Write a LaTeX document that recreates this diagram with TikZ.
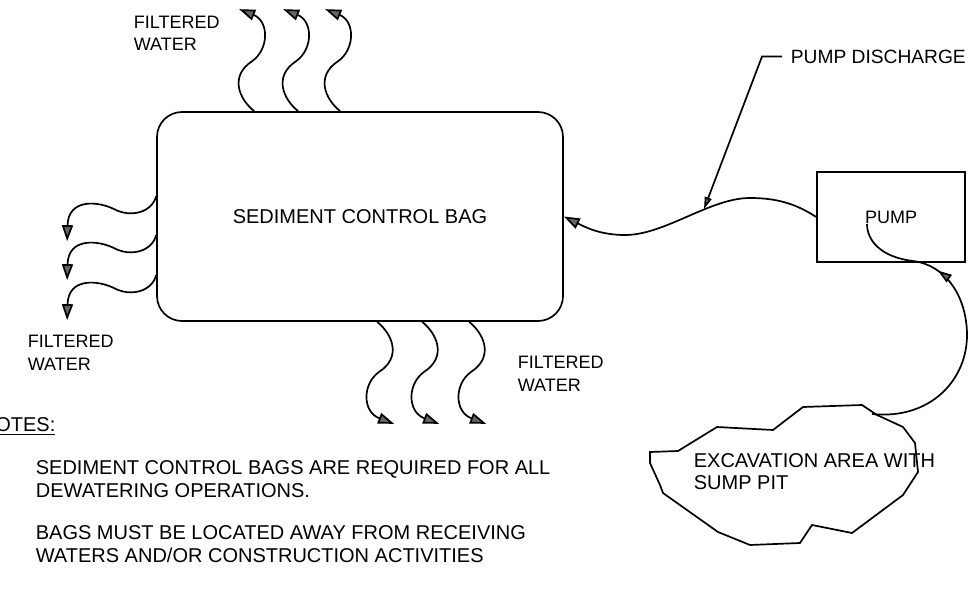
\documentclass[tikz,border=0pt]{standalone}
\usepackage{fontspec}
\setmainfont{Liberation Sans}
\usetikzlibrary{calc}
\usetikzlibrary{arrows.meta}
\usetikzlibrary{decorations.markings}
\tikzset{bagbox/.style={draw,rounded corners=12.5pt,minimum width=203pt,minimum height=104.5pt,inner sep=0pt}}
\tikzset{pumpbox/.style={draw,minimum width=74pt,minimum height=45pt,inner sep=0pt}}
\tikzset{callout/.style={anchor=north west,inner sep=0pt,align=left}}
\tikzset{flow/.style={-{Triangle[length=8pt,width=5.5pt,fill=black!60]}}}
\tikzset{hosearrow/.style={decoration={
			markings,
			mark=at position #1 with {\arrow{Triangle[length=7pt,width=4.5pt,fill=black!60]}}},postaction={decorate}},
	hosearrow/.default=0.7,
}

\begin{document}
\begin{tikzpicture}[x=0.5pt,y=0.5pt,line width=0.85pt]
			\tikzstyle{every node}=[font=\fontsize{10}{11.5}\selectfont]
			\useasboundingbox (0,0) rectangle (968,595);
			
			\node[bagbox] (bag) at (360,378.5) {SEDIMENT CONTROL BAG};
			\node[pumpbox,font=\fontsize{9}{11}\selectfont] (pump) at (891,378) {PUMP};
			
			\draw[flow,shift={($(bag.north west)+(98,0)$)}] (0,0) .. controls (-15,12) and (-25,35) .. (-2,50) .. controls (15,62) and (15,90) .. (-15,102);
			\draw[flow,shift={($(bag.north west)+(142,0)$)}] (0,0) .. controls (-15,12) and (-25,35) .. (-2,50) .. controls (15,62) and (15,90) .. (-15,102);
			\draw[flow,shift={($(bag.north west)+(184,0)$)}] (0,0) .. controls (-15,12) and (-25,35) .. (-2,50) .. controls (15,62) and (15,90) .. (-15,102);
			
			\draw[flow,shift={($(bag.north west)+(0,-85)$)}] (0,0) .. controls (-4,-16) and (-25,-22) .. (-42,-13) .. controls (-58,-5) and (-88,-2) .. (-89,-45);
			\draw[flow,shift={($(bag.north west)+(0,-124)$)}] (0,0) .. controls (-4,-16) and (-25,-22) .. (-42,-13) .. controls (-58,-5) and (-88,-2) .. (-89,-45);
			\draw[flow,shift={($(bag.north west)+(0,-164)$)}] (0,0) .. controls (-4,-16) and (-25,-22) .. (-42,-13) .. controls (-58,-5) and (-88,-2) .. (-89,-45);
			
			\draw[flow,shift={($(bag.south west)+(221,0)$)}] (0,0) .. controls (15,-12) and (25,-35) .. (2,-50) .. controls (-15,-62) and (-15,-90) .. (17,-102);
			\draw[flow,shift={($(bag.south west)+(266,0)$)}] (0,0) .. controls (15,-12) and (25,-35) .. (2,-50) .. controls (-15,-62) and (-15,-90) .. (17,-102);
			\draw[flow,shift={($(bag.south west)+(313,0)$)}] (0,0) .. controls (15,-12) and (25,-35) .. (2,-50) .. controls (-15,-62) and (-15,-90) .. (17,-102);
			
			\node[callout,font=\fontsize{9}{11}\selectfont] (topwater) at (133,580) {FILTERED\\WATER};
			\node[callout,font=\fontsize{9}{11.5}\selectfont] (leftwater) at (27,261) {FILTERED\\WATER};
			\node[callout,font=\fontsize{9}{11.5}\selectfont] (bottomwater) at (517,240) {FILTERED\\WATER};
			
			\draw[flow] (pump.west) .. controls (795,392) and (775,397) .. (750,397) .. controls (710,397) and (665,360) .. (625,360) .. controls (600,360) and (585,368) .. (bag.east);
			
			\node[anchor=west,inner sep=0pt,font=\fontsize{9.6}{11}\selectfont] (discharge) at (790,538.5) {PUMP DISCHARGE};
			\coordinate (hosept) at (704,386);
			\draw[-{Triangle[length=6pt,width=3.5pt,fill=black!60]}] ([xshift=-4pt]discharge.west) -- ++(-20,0) -- (hosept);
			
			\draw (650,143) -- (678,144) -- (717,168) -- (773,165) -- (803,188) -- (862,190) -- (877,180) -- (903,168) -- (915,152) -- (918,123) -- (903,100) -- (852,62) -- (812,70) -- (800,52) -- (750,50) -- (718,63) -- (663,102) -- (660,110) -- (650,132) -- cycle;
			\node[callout,font=\fontsize{10}{11}\selectfont] (excav) at (693,142) {EXCAVATION AREA WITH\\SUMP PIT};
			
			\coordinate (sump) at (872,181);
			\coordinate (intake) at (867,371);
			\draw[hosearrow=0.7] (sump) .. controls (930,175) and (968,215) .. (967,262) .. controls (966,300) and (945,330) .. (913,334) .. controls (880,338) and (867,355) .. (intake);
			
			\node[callout] (notehead) at (-20,178) {\underline{NOTES:}};
			\node[callout] (note1) at (35,135) {SEDIMENT CONTROL BAGS ARE REQUIRED FOR ALL\\DEWATERING OPERATIONS.};
			\node[callout] (note2) at (35,70) {BAGS MUST BE LOCATED AWAY FROM RECEIVING\\WATERS AND/OR CONSTRUCTION ACTIVITIES};
			
\end{tikzpicture}
\end{document}
